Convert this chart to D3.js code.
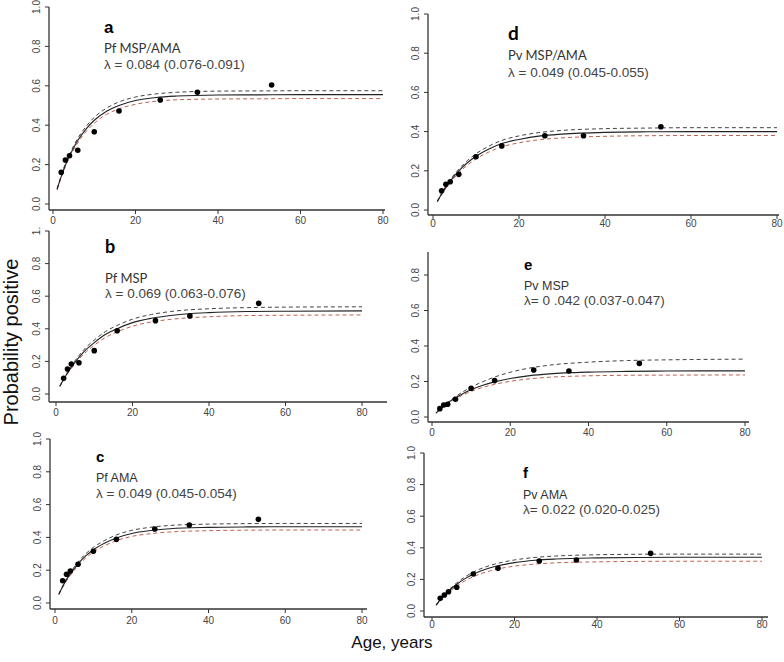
<!DOCTYPE html>
<html><head><meta charset="utf-8">
<script src="https://cdn.jsdelivr.net/npm/d3@7/dist/d3.min.js"></script>
<style>body{margin:0;background:#fff}svg{display:block}</style>
</head><body>
<script>
// ---------- DATA ----------
const pointAges = [2, 3, 4, 6, 10, 16, 26, 35, 53];
const curveAges = [1, 2, 3, 4, 6, 8, 10, 13, 16, 20, 25, 30, 40, 50, 60, 80];
const xTicks = [0, 20, 40, 60, 80];
const yTicks = [0, 0.2, 0.4, 0.6, 0.8, 1.0];
const yTicksE = [0, 0.2, 0.4, 0.6, 0.8];

const panelLetters = ["a", "b", "c", "d", "e", "f"];
const panelTitles = ["Pf MSP/AMA", "Pf MSP", "Pf AMA", "Pv MSP/AMA", "Pv MSP", "Pv AMA"];
const panelLambda = ["λ = 0.084 (0.076-0.091)", "λ = 0.069 (0.063-0.076)", "λ = 0.049 (0.045-0.054)",
                     "λ = 0.049 (0.045-0.055)", "λ= 0 .042 (0.037-0.047)", "λ= 0.022 (0.020-0.025)"];

const pointsA = [0.161, 0.223, 0.245, 0.273, 0.367, 0.472, 0.528, 0.567, 0.604];
const pointsB = [0.096, 0.153, 0.184, 0.192, 0.266, 0.388, 0.450, 0.479, 0.556];
const pointsC = [0.136, 0.175, 0.195, 0.236, 0.315, 0.388, 0.451, 0.476, 0.510];
const pointsD = [0.098, 0.131, 0.144, 0.182, 0.272, 0.327, 0.379, 0.379, 0.425];
const pointsE = [0.047, 0.068, 0.072, 0.100, 0.162, 0.205, 0.265, 0.259, 0.302];
const pointsF = [0.080, 0.101, 0.122, 0.150, 0.234, 0.270, 0.316, 0.323, 0.365];

const fitA = [0.075,0.14,0.197,0.243,0.322,0.38,0.425,0.471,0.5,0.525,0.541,0.548,0.553,0.554,0.555,0.555];
const upA  = [0.078,0.145,0.205,0.252,0.333,0.393,0.44,0.487,0.518,0.543,0.559,0.567,0.573,0.574,0.575,0.575];
const loA  = [0.072,0.135,0.19,0.235,0.311,0.367,0.41,0.455,0.483,0.506,0.522,0.529,0.533,0.534,0.535,0.535];

const fitB = [0.047,0.09,0.129,0.164,0.225,0.275,0.315,0.366,0.401,0.438,0.465,0.482,0.499,0.506,0.508,0.51];
const upB  = [0.049,0.094,0.135,0.172,0.236,0.289,0.331,0.384,0.421,0.459,0.488,0.506,0.523,0.53,0.533,0.535];
const loB  = [0.045,0.086,0.123,0.156,0.214,0.261,0.299,0.348,0.381,0.416,0.442,0.458,0.474,0.481,0.483,0.485];

const fitC = [0.053,0.1,0.142,0.177,0.239,0.287,0.325,0.366,0.397,0.424,0.442,0.453,0.461,0.464,0.465,0.465];
const upC  = [0.056,0.105,0.149,0.186,0.25,0.3,0.339,0.382,0.415,0.443,0.462,0.473,0.481,0.484,0.485,0.485];
const loC  = [0.05,0.095,0.135,0.168,0.228,0.274,0.311,0.35,0.38,0.406,0.423,0.433,0.441,0.444,0.445,0.445];

const fitD = [0.043,0.082,0.117,0.147,0.199,0.241,0.274,0.311,0.339,0.36,0.378,0.387,0.396,0.399,0.4,0.4];
const upD  = [0.045,0.086,0.122,0.154,0.208,0.252,0.287,0.326,0.355,0.378,0.396,0.406,0.415,0.418,0.42,0.42];
const loD  = [0.041,0.078,0.111,0.14,0.189,0.229,0.261,0.296,0.322,0.343,0.359,0.368,0.376,0.379,0.38,0.38];

const fitE = [0.022,0.043,0.061,0.078,0.108,0.133,0.154,0.179,0.198,0.217,0.233,0.243,0.253,0.257,0.259,0.26];
const upE  = [0.022,0.044,0.064,0.082,0.115,0.143,0.168,0.199,0.225,0.252,0.276,0.292,0.309,0.318,0.322,0.326];
const loE  = [0.021,0.041,0.058,0.074,0.102,0.125,0.144,0.167,0.184,0.201,0.215,0.224,0.232,0.235,0.236,0.237];

const fitF = [0.037,0.07,0.1,0.125,0.169,0.205,0.233,0.264,0.286,0.306,0.321,0.329,0.336,0.339,0.34,0.34];
const upF  = [0.039,0.074,0.105,0.132,0.178,0.216,0.246,0.279,0.302,0.323,0.339,0.348,0.356,0.359,0.36,0.36];
const loF  = [0.035,0.066,0.094,0.117,0.158,0.191,0.217,0.246,0.266,0.284,0.297,0.305,0.311,0.314,0.315,0.315];

// ---------- LAYOUT ----------
const W = 784, H = 662;
const svg = d3.select("body").append("svg").attr("width", W).attr("height", H);

const panels = [
  {pts: pointsA, fit: fitA, up: upA, lo: loA, ticks: yTicks, yTop: 1.0,
   axisX: 49, x0: 53, x80: 383, xAxisY: 210, y0: 204, y1: 7, xEnd: 385, tl: 14,
   lx: 104, ly: [33, 53, 69], f1: "Liberation Sans", f2: "Lato", ls: [17, 13]},
  {pts: pointsB, fit: fitB, up: upB, lo: loB, ticks: yTicks, yTop: 1.0, oneLabel: "1.",
   axisX: 49, x0: 56, x80: 362, xAxisY: 402, y0: 394, y1: 231, xEnd: 387, tl: 14,
   lx: 105, ly: [253, 283, 298], f1: "Lato", f2: "Lato", ls: [18, 13]},
  {pts: pointsC, fit: fitC, up: upC, lo: loC, ticks: yTicks, yTop: 1.0,
   axisX: 50, x0: 55, x80: 362, xAxisY: 609, y0: 603, y1: 439, xEnd: 367, tl: 15,
   lx: 96, ly: [462, 482, 498], f1: "Liberation Sans", f2: "Liberation Sans", ls: [15, 12.5]},
  {pts: pointsD, fit: fitD, up: upD, lo: loD, ticks: yTicks, yTop: 1.0,
   axisX: 428, x0: 433, x80: 777, xAxisY: 215, y0: 210, y1: 14, xEnd: 779, tl: 12,
   lx: 508, ly: [40, 60, 77], f1: "Lato", f2: "Lato", ls: [19, 13]},
  {pts: pointsE, fit: fitE, up: upE, lo: loE, ticks: yTicksE, yTop: 0.93,
   axisX: 428, x0: 432, x80: 745, xAxisY: 422, y0: 417, y1: 239.5, xEnd: 749, tl: 14,
   lx: 524, ly: [270, 290, 305], f1: "Liberation Sans", f2: "Liberation Sans", ls: [15, 12.5]},
  {pts: pointsF, fit: fitF, up: upF, lo: loF, ticks: yTicks, yTop: 1.0,
   axisX: 424, x0: 432, x80: 762, xAxisY: 617, y0: 611, y1: 453, xEnd: 768, tl: 11,
   lx: 523, ly: [478, 499, 514], f1: "Liberation Sans", f2: "Liberation Sans", ls: [15, 12.5]}
];

const axisColor = "#333";
const tickText = "#444";

panels.forEach((p, i) => {
  const x = d3.scaleLinear().domain([0, 80]).range([p.x0, p.x80]);
  const y = d3.scaleLinear().domain([0, 1]).range([p.y0, p.y1]);
  const g = svg.append("g");

  // axis lines (L-frame)
  g.append("line").attr("x1", p.axisX).attr("x2", p.axisX)
    .attr("y1", y(p.yTop)).attr("y2", p.xAxisY)
    .attr("stroke", axisColor).attr("stroke-width", 1.3);
  g.append("line").attr("x1", p.axisX).attr("x2", p.xEnd)
    .attr("y1", p.xAxisY).attr("y2", p.xAxisY)
    .attr("stroke", axisColor).attr("stroke-width", 1.6);

  // y ticks
  p.ticks.forEach(t => {
    g.append("line").attr("x1", p.axisX - 4).attr("x2", p.axisX)
      .attr("y1", y(t)).attr("y2", y(t)).attr("stroke", axisColor);
    const lab = (t === 1 && p.oneLabel) ? p.oneLabel : d3.format(".1f")(t);
    g.append("text")
      .attr("transform", `translate(${p.axisX - 9},${y(t)}) rotate(-90)`)
      .attr("text-anchor", "middle")
      .attr("font-family", "Liberation Sans, Arial, sans-serif")
      .attr("font-size", 10).attr("fill", tickText).text(lab);
  });
  // x ticks
  xTicks.forEach(t => {
    g.append("line").attr("x1", x(t)).attr("x2", x(t))
      .attr("y1", p.xAxisY).attr("y2", p.xAxisY + 4).attr("stroke", axisColor);
    g.append("text").attr("x", x(t)).attr("y", p.xAxisY + p.tl)
      .attr("text-anchor", "middle")
      .attr("font-family", "Liberation Sans, Arial, sans-serif")
      .attr("font-size", 10).attr("fill", tickText).text(t);
  });

  const line = d3.line().x((d, j) => x(curveAges[j])).y(d => y(d)).curve(d3.curveMonotoneX);
  g.append("path").attr("d", line(p.lo)).attr("fill", "none")
    .attr("stroke", "#c0604e").attr("stroke-width", 1).attr("stroke-dasharray", "4,3");
  g.append("path").attr("d", line(p.up)).attr("fill", "none")
    .attr("stroke", "#444").attr("stroke-width", 1).attr("stroke-dasharray", "4,3");
  g.append("path").attr("d", line(p.fit)).attr("fill", "none")
    .attr("stroke", "#222").attr("stroke-width", 1.1);

  g.selectAll("circle.pt").data(p.pts).enter().append("circle")
    .attr("cx", (d, j) => x(pointAges[j])).attr("cy", d => y(d))
    .attr("r", 2.8).attr("fill", "#000");

  // labels
  g.append("text").attr("x", p.lx).attr("y", p.ly[0])
    .attr("font-family", p.f1 + ", sans-serif").attr("font-weight", "bold")
    .attr("font-size", p.ls[0]).attr("fill", "#000").text(panelLetters[i]);
  g.append("text").attr("x", p.lx).attr("y", p.ly[1])
    .attr("font-family", p.f2 + ", sans-serif")
    .attr("font-size", p.ls[1]).attr("fill", "#333").text(panelTitles[i]);
  g.append("text").attr("x", p.lx).attr("y", p.ly[2])
    .attr("font-family", "Liberation Sans, Arial, sans-serif")
    .attr("font-size", 13.5).attr("fill", "#444").text(panelLambda[i]);
});

svg.append("text")
  .attr("transform", "translate(18,342) rotate(-90)")
  .attr("text-anchor", "middle")
  .attr("font-family", "Liberation Sans, Arial, sans-serif")
  .attr("font-size", 20).attr("fill", "#111").text("Probability positive");

svg.append("text").attr("x", 392).attr("y", 648)
  .attr("text-anchor", "middle")
  .attr("font-family", "Liberation Sans, Arial, sans-serif")
  .attr("font-size", 17).attr("fill", "#111").text("Age, years");
</script>
</body></html>
